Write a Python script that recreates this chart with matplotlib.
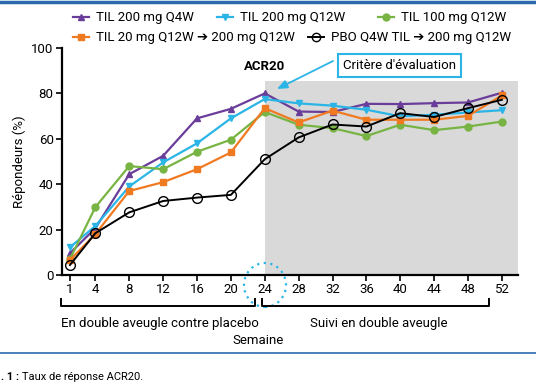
import matplotlib.pyplot as plt
from matplotlib.lines import Line2D
from matplotlib.patches import Rectangle, Ellipse, FancyArrowPatch

plt.rcParams['font.family'] = ['Roboto', 'DejaVu Sans']

weeks = [1, 4, 8, 12, 16, 20, 24, 28, 32, 36, 40, 44, 48, 52]

til200_q4w = [9.6, 20.6, 44.4, 52.5, 69, 73.2, 80, 72, 71.8, 75.4, 75.3, 75.7, 76, 80.3]
til200_q12w = [12.2, 21.6, 39, 49.6, 58, 69, 77.5, 75.6, 74.6, 72.8, 69.9, 70.6, 71.6, 72.6]
til100_q12w = [7, 29.9, 48, 46.6, 54.3, 59.6, 71.8, 66.2, 64.7, 61.2, 66.2, 63.8, 65.4, 67.6]
til20_q12w = [6.6, 18, 37, 40.9, 46.6, 54, 73.5, 67.2, 72.4, 68.4, 68.4, 68.4, 70.1, 79.1]
pbo_q4w = [4.4, 18.4, 27.6, 32.6, 34.1, 35.3, 51, 60.6, 66.3, 65.4, 71.3, 69.6, 73.5, 77.2]

labels = ["TIL 200 mg Q4W", "TIL 200 mg Q12W", "TIL 100 mg Q12W",
          "TIL 20 mg Q12W \u2794 200 mg Q12W", "PBO Q4W TIL \u2794 200 mg Q12W"]

purple = "#6a3d9a"
cyan = "#2bb5e6"
green = "#78b443"
orange = "#f07a21"
W, H = 536, 386


def px(x, y):
    return (x / W, 1 - y / H)


fig = plt.figure(figsize=(5.36, 3.86), dpi=100)
ax = fig.add_axes([62 / W, 1 - 275 / H, (518 - 62) / W, (275 - 48) / H])

ax.add_patch(Rectangle((24, 0), 40, 85.5, color="#d9d9d9", zorder=0, lw=0))

styles = [
    (til200_q4w, dict(color=purple, marker="^", lw=1.6, ms=5)),
    (til200_q12w, dict(color=cyan, marker="v", lw=1.6, ms=5)),
    (til100_q12w, dict(color=green, marker="o", lw=1.6, ms=5)),
    (til20_q12w, dict(color=orange, marker="s", lw=1.6, ms=5)),
    (pbo_q4w, dict(color="black", marker="o", mfc="none", lw=1.4, ms=7)),
]
order = [2, 3, 1, 0, 4]
for i in order:
    vals, st = styles[i]
    ax.plot(weeks, vals, zorder=3 + i, **st)

ax.set_xlim(0.06, 53.9)
ax.set_ylim(0, 100)
ax.set_xticks(weeks)
ax.set_yticks([0, 20, 40, 60, 80, 100])
for s in ["top", "right"]:
    ax.spines[s].set_visible(False)
for s in ["left", "bottom"]:
    ax.spines[s].set_linewidth(1.6)
ax.tick_params(labelsize=9.5, width=1.2, length=4, pad=2)
ax.set_ylabel("Répondeurs (%)", fontsize=9.5, labelpad=4)

fig.text(*px(265, 66), "ACR20", ha="center", va="center", fontsize=9.5, fontweight="bold")
fig.text(*px(399.5, 65.5), "Critère d'évaluation", ha="center", va="center", fontsize=9.5,
         bbox=dict(boxstyle="square,pad=0.35", fc="white", ec=cyan, lw=1.5))
fig.add_artist(FancyArrowPatch(px(333, 61), px(277, 89), transform=fig.transFigure,
                               arrowstyle="-|>,head_length=6,head_width=2.5",
                               shrinkA=0, shrinkB=0, color=cyan, lw=1.3))

# dotted circle around week 24
fig.add_artist(Ellipse(px(265, 285), 42 / W, 44 / H, transform=fig.transFigure,
                       fill=False, ec=cyan, lw=1.6, ls=(0, (1, 2))))

# brackets
for x0, x1 in [(61, 255), (262, 489)]:
    fig.add_artist(Line2D([x0 / W, x0 / W, x1 / W, x1 / W],
                          [1 - 299 / H, 1 - 306 / H, 1 - 306 / H, 1 - 299 / H],
                          color="black", lw=1.4, transform=fig.transFigure))
fig.text(*px(160, 323), "En double aveugle contre placebo", ha="center", va="center", fontsize=9.5)
fig.text(*px(379, 323), "Suivi en double aveugle", ha="center", va="center", fontsize=9.5)
fig.text(*px(258, 340), "Semaine", ha="center", va="center", fontsize=9.5)

# legend, entries placed by hand
legend_pos = [(73, 17), (217, 17), (378, 17), (73, 37), (308, 37)]
for (vals, st), label, (lx, ly) in zip(styles, labels, legend_pos):
    fig.add_artist(Line2D([lx / W, (lx + 8) / W, (lx + 16) / W], [1 - ly / H] * 3,
                          markevery=[1], transform=fig.transFigure,
                          **{**st, "ms": min(st["ms"], 6)}))
    fig.text(*px(lx + 23, ly), label, ha="left", va="center", fontsize=9.5)

# frame lines and caption
fig.add_artist(Line2D([0, 1], [1 - 1.5 / H] * 2, color="#2a6aad", lw=2.5, transform=fig.transFigure))
fig.add_artist(Line2D([0, 1], [1 - 353 / H] * 2, color="#2a6aad", lw=1.2, transform=fig.transFigure))
fig.text(*px(1, 377), ". 1 :", ha="left", va="center", fontsize=8, fontweight="bold")
fig.text(*px(22, 377), "Taux de réponse ACR20.", ha="left", va="center", fontsize=8)

fig.savefig("out.png", dpi=100)
